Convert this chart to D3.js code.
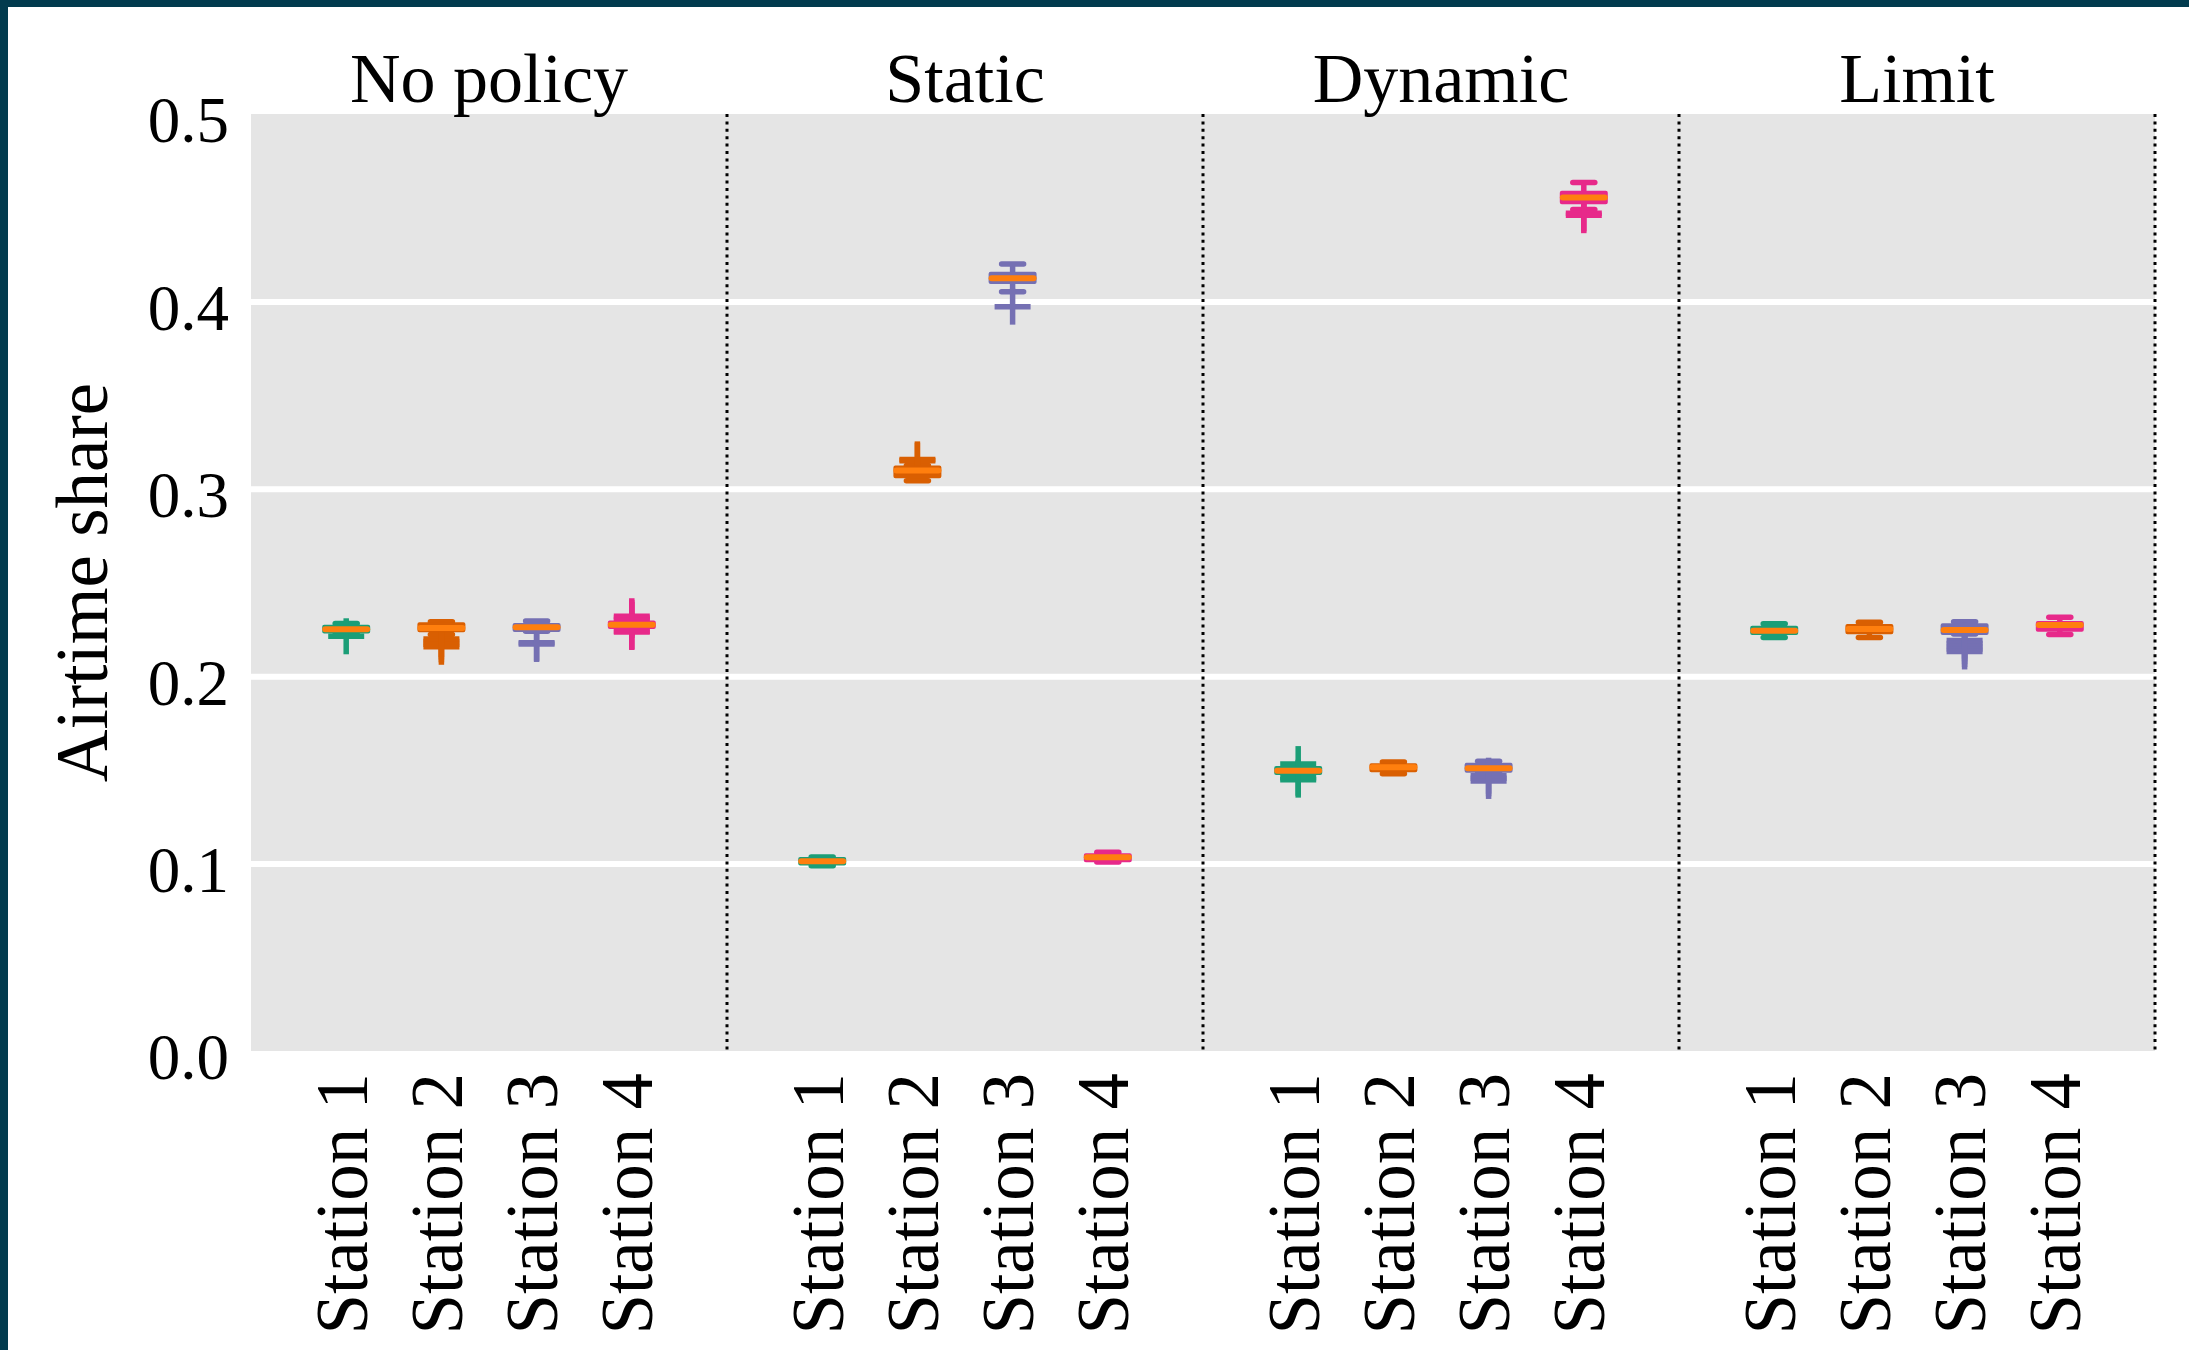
<!DOCTYPE html>
<html>
<head>
<meta charset="utf-8">
<script src="https://cdn.jsdelivr.net/npm/d3@7"></script>
<style>
  body { margin: 0; background: #fff; }
  svg { display: block; font-family: "Liberation Serif", "DejaVu Serif", serif; }
</style>
</head>
<body>
<svg id="chart"></svg>
<script>
// categories
const policies = ["No policy", "Static", "Dynamic", "Limit"];
const stations = ["Station 1", "Station 2", "Station 3", "Station 4"];
const yTicks = [0.0, 0.1, 0.2, 0.3, 0.4, 0.5];

// box statistics, one row per policy, one column per station
const q1 = [
  [0.2238, 0.2245, 0.2247, 0.2263],
  [0.1000, 0.3067, 0.4104, 0.1018],
  [0.1483, 0.1498, 0.1496, 0.4529],
  [0.2231, 0.2234, 0.2231, 0.2248]
];
const median = [
  [0.2250, 0.2257, 0.2261, 0.2275],
  [0.1012, 0.3097, 0.4123, 0.1034],
  [0.1496, 0.1514, 0.1509, 0.4554],
  [0.2243, 0.2252, 0.2247, 0.2273]
];
const q3 = [
  [0.2264, 0.2277, 0.2273, 0.2286],
  [0.1025, 0.3113, 0.4148, 0.1044],
  [0.1510, 0.1525, 0.1528, 0.4580],
  [0.2259, 0.2268, 0.2272, 0.2284]
];
const whiskerLow = [
  [0.2232, 0.2222, 0.2240, 0.2258],
  [0.0989, 0.3043, 0.4052, 0.1009],
  [0.1475, 0.1480, 0.1490, 0.4491],
  [0.2207, 0.2207, 0.2225, 0.2222]
];
const whiskerHigh = [
  [0.2281, 0.2290, 0.2295, 0.2292],
  [0.1035, 0.3125, 0.4200, 0.1060],
  [0.1518, 0.1542, 0.1546, 0.4635],
  [0.2280, 0.2288, 0.2291, 0.2314]
];
const fliers = [
  [[0.2213], [0.2198, 0.2185, 0.2170, 0.2157], [0.2178, 0.2172], [0.2320, 0.2310, 0.2300, 0.2240, 0.2236]],
  [[], [0.3157, 0.3150], [0.3972], []],
  [[0.1531, 0.1458, 0.1448], [], [0.1469, 0.1455, 0.1441], [0.4470, 0.4460]],
  [[], [], [0.2190, 0.2175, 0.2160, 0.2145, 0.2132], []]
];

const colors = ["#1b9e77", "#d95f02", "#7570b3", "#e7298a"];
const medianColor = "#ff7f0e";

const W = 2189, H = 1350;
const plot = { left: 251, right: 2155, top: 114, bottom: 1051 };

const svg = d3.select("#chart").attr("width", W).attr("height", H);

// dark frame on the left and top
svg.append("rect").attr("x", 0).attr("y", 0).attr("width", 8).attr("height", H).attr("fill", "#023b4e");
svg.append("rect").attr("x", 0).attr("y", 0).attr("width", W).attr("height", 7).attr("fill", "#023b4e");

const y = d3.scaleLinear().domain([0, 0.5]).range([plot.bottom, plot.top]);
const panel = d3.scaleBand().domain(policies).range([plot.left, plot.right]).paddingInner(0).paddingOuter(0);
const x = d3.scalePoint().domain(stations).range([0, panel.bandwidth()]).padding(1);

// background
svg.append("rect")
  .attr("x", plot.left).attr("y", plot.top)
  .attr("width", plot.right - plot.left).attr("height", plot.bottom - plot.top)
  .attr("fill", "#e5e5e5");

// grid lines
const grid = svg.append("g")
  .attr("transform", `translate(${plot.left},0)`)
  .call(d3.axisLeft(y).tickValues([0.1, 0.2, 0.3, 0.4]).tickSize(-(plot.right - plot.left)).tickFormat(""));
grid.select(".domain").remove();
grid.selectAll("line").attr("stroke", "#fff").attr("stroke-width", 6);

// y axis labels
const yAxis = svg.append("g")
  .attr("transform", `translate(${plot.left},0)`)
  .call(d3.axisLeft(y).tickValues(yTicks).tickSize(0).tickFormat(d3.format(".1f")));
yAxis.select(".domain").remove();
yAxis.selectAll("text")
  .attr("x", -22).attr("dy", "0.43em")
  .attr("font-size", 65).attr("font-family", "Liberation Serif").attr("fill", "#000");

svg.append("text")
  .attr("transform", `translate(107,${(plot.top + plot.bottom) / 2}) rotate(-90)`)
  .attr("text-anchor", "middle")
  .attr("font-size", 73)
  .text("Airtime share");

policies.forEach(function (p, pi) {
  const g = svg.append("g").attr("transform", `translate(${panel(p)},0)`);

  // panel title
  g.append("text")
    .attr("x", panel.bandwidth() / 2).attr("y", 102)
    .attr("text-anchor", "middle").attr("font-size", 70)
    .text(p);

  // dotted separator at the right edge
  g.append("line")
    .attr("x1", panel.bandwidth()).attr("x2", panel.bandwidth())
    .attr("y1", plot.top).attr("y2", plot.bottom)
    .attr("stroke", "#000").attr("stroke-width", 3)
    .attr("stroke-dasharray", "3 4.4");

  // station tick labels
  const xAxis = g.append("g")
    .attr("transform", `translate(0,${plot.bottom})`)
    .call(d3.axisBottom(x).tickSize(0));
  xAxis.select(".domain").remove();
  xAxis.selectAll("text")
    .attr("y", 0).attr("x", 0)
    .attr("transform", "translate(0,22) rotate(-90)")
    .attr("dy", 20).attr("dx", 0)
    .style("text-anchor", "end")
    .attr("font-size", 73).attr("font-family", "Liberation Serif").attr("fill", "#000");

  stations.forEach(function (s, si) {
    const cx = x(s);
    const c = colors[si];
    const b = g.append("g").attr("transform", `translate(${cx},0)`);

    // whisker
    b.append("line")
      .attr("x1", 0).attr("x2", 0)
      .attr("y1", y(whiskerLow[pi][si])).attr("y2", y(whiskerHigh[pi][si]))
      .attr("stroke", c).attr("stroke-width", 5.5);
    // caps
    [whiskerLow[pi][si], whiskerHigh[pi][si]].forEach(function (v) {
      b.append("line")
        .attr("x1", -11).attr("x2", 11)
        .attr("y1", y(v)).attr("y2", y(v))
        .attr("stroke", c).attr("stroke-width", 5.5).attr("stroke-linecap", "round");
    });
    // fliers as "+" markers
    fliers[pi][si].forEach(function (v) {
      b.append("line")
        .attr("x1", -18).attr("x2", 18).attr("y1", y(v)).attr("y2", y(v))
        .attr("stroke", c).attr("stroke-width", 5.5);
      b.append("line")
        .attr("x1", 0).attr("x2", 0).attr("y1", y(v) - 18).attr("y2", y(v) + 18)
        .attr("stroke", c).attr("stroke-width", 5.5);
    });
    // box
    b.append("rect")
      .attr("x", -22).attr("width", 44)
      .attr("y", y(q3[pi][si])).attr("height", y(q1[pi][si]) - y(q3[pi][si]))
      .attr("fill", c).attr("stroke", c).attr("stroke-width", 4)
      .attr("stroke-linejoin", "round");
    // median
    b.append("line")
      .attr("x1", -21).attr("x2", 21)
      .attr("y1", y(median[pi][si])).attr("y2", y(median[pi][si]))
      .attr("stroke", medianColor).attr("stroke-width", 6).attr("stroke-linecap", "round");
  });
});
</script>
</body>
</html>
